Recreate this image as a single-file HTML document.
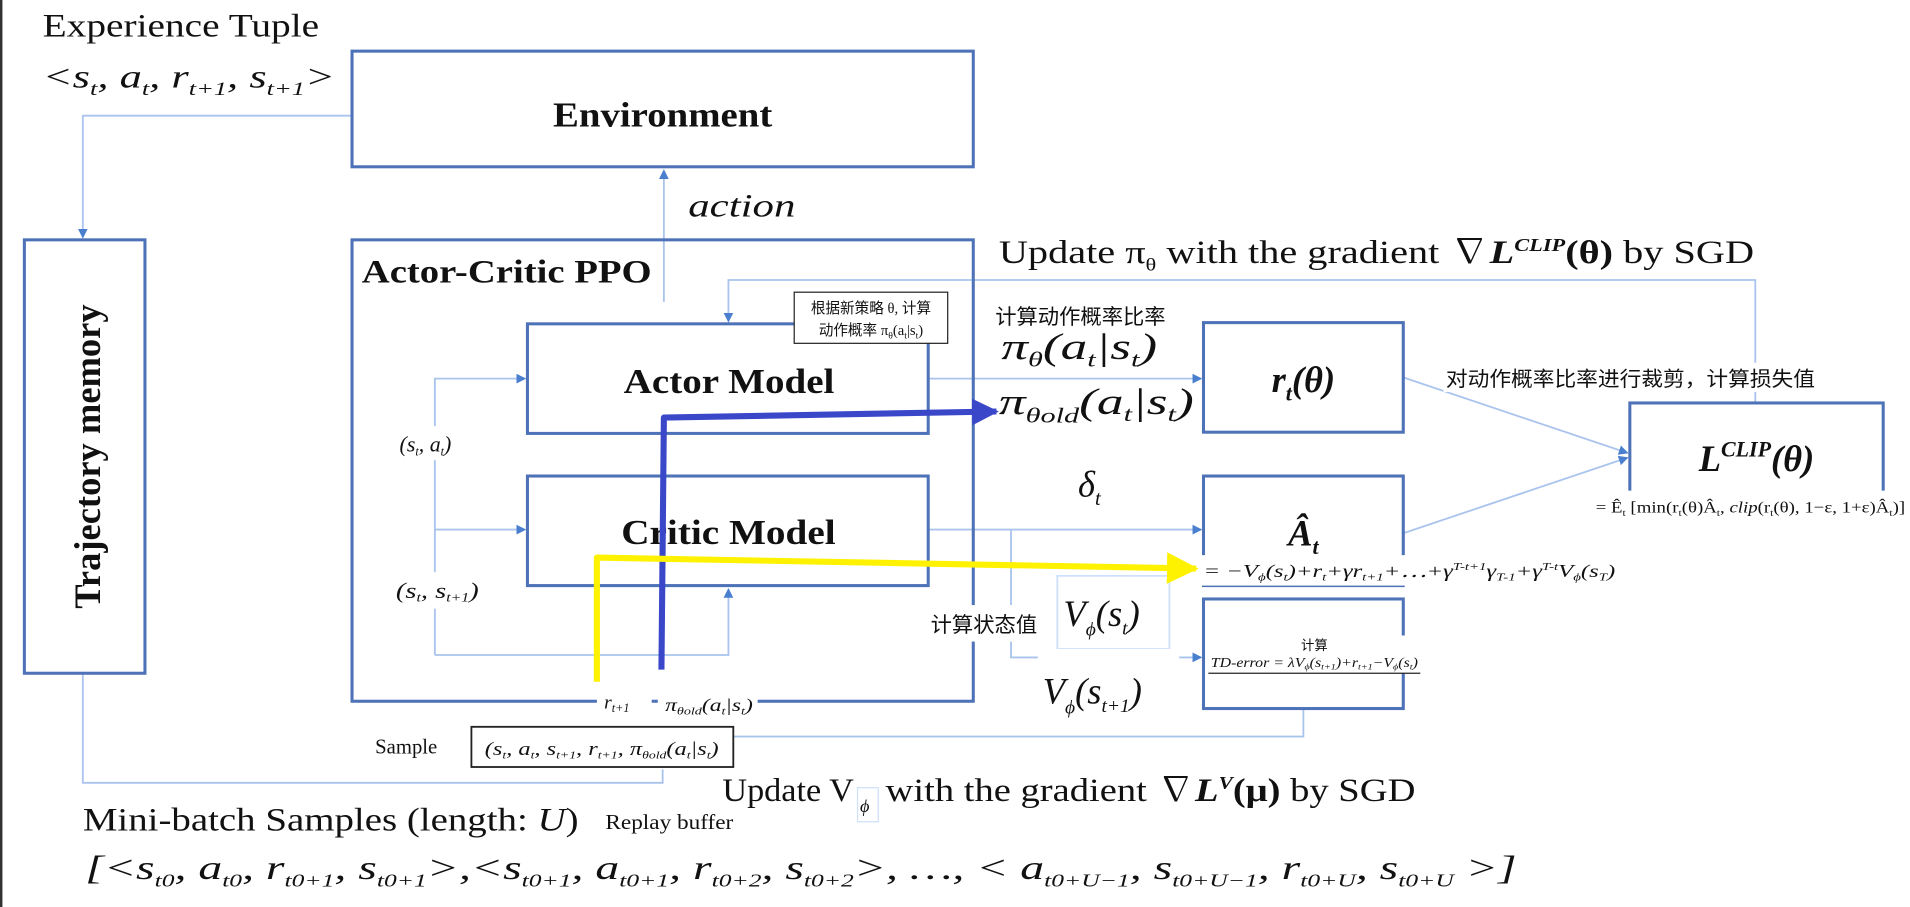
<!DOCTYPE html>
<html><head><meta charset="utf-8"><style>
html,body{margin:0;padding:0;background:#fff;overflow:hidden}
svg{display:block}
.s{font-family:"Liberation Serif","Noto Serif CJK SC",serif}
.c{font-family:"Liberation Serif","Noto Sans CJK SC",serif}
</style></head><body>
<svg width="1910" height="907" viewBox="0 0 1568 745" preserveAspectRatio="none" xmlns="http://www.w3.org/2000/svg">
<defs>
<marker id="a" markerWidth="8" markerHeight="8" refX="7" refY="4" orient="auto" markerUnits="userSpaceOnUse"><path d="M0,0 L8,4 L0,8 z" fill="#4a7fd0"/></marker>
<marker id="bl" markerWidth="22" markerHeight="22" refX="20" refY="11" orient="auto" markerUnits="userSpaceOnUse"><path d="M0,0 L22,11 L0,22 z" fill="#3b47c9"/></marker>
<marker id="ye" markerWidth="26" markerHeight="26" refX="24" refY="13" orient="auto" markerUnits="userSpaceOnUse"><path d="M0,0 L26,13 L0,26 z" fill="#fff200"/></marker>
</defs>
<rect x="0" y="0" width="2" height="745" fill="#333"/>
<g fill="none" stroke="#aac4ee" stroke-width="1.5">
<polyline points="289,95 68,95 68,195" marker-end="url(#a)"/>
<polyline points="68,553 68,643 544,643 544,632"/>
<line x1="545" y1="248" x2="545" y2="140" marker-end="url(#a)"/>
<polyline points="1441,332 1441,230 598,230 598,264" marker-end="url(#a)"/>
<polyline points="357,538 357,311 431,311" marker-end="url(#a)"/>
<line x1="357" y1="435" x2="431" y2="435" marker-end="url(#a)"/>
<polyline points="357,538 598,538 598,484" marker-end="url(#a)"/>
<line x1="762" y1="311" x2="986" y2="311" marker-end="url(#a)"/>
<line x1="762" y1="435" x2="986" y2="435" marker-end="url(#a)"/>
<polyline points="830,435 830,540 986,540" marker-end="url(#a)"/>
<line x1="1152" y1="310" x2="1336" y2="372" marker-end="url(#a)"/>
<line x1="1152" y1="438" x2="1336" y2="376" marker-end="url(#a)"/>
<polyline points="1070,582 1070,605 600,605"/>
</g>
<g fill="#fff" stroke="#4d72b8" stroke-width="2.5">
<rect x="289" y="42" width="510" height="95"/>
<rect x="20" y="197" width="99" height="356"/>
<rect x="289" y="197" width="510" height="379" fill="none"/>
<rect x="433" y="266" width="329" height="90"/>
<rect x="433" y="391" width="329" height="90"/>
<rect x="988" y="265" width="164" height="90"/>
<rect x="988" y="391" width="164" height="90"/>
<rect x="988" y="492" width="164" height="90"/>
<rect x="1338" y="331" width="208" height="90"/>
</g>
<g class="s" fill="#111">
<text x="35" y="30" font-size="27" textLength="227" lengthAdjust="spacingAndGlyphs">Experience Tuple</text>
<text x="35" y="72" font-size="27" font-style="italic" textLength="240" lengthAdjust="spacingAndGlyphs">&lt;s<tspan font-size="16" dy="6">t</tspan><tspan dy="-6">, a</tspan><tspan font-size="16" dy="6">t</tspan><tspan dy="-6">, r</tspan><tspan font-size="16" dy="6">t+1</tspan><tspan dy="-6">, s</tspan><tspan font-size="16" dy="6">t+1</tspan><tspan dy="-6">&gt;</tspan></text>
<text x="454" y="104" font-size="29" font-weight="bold" textLength="180" lengthAdjust="spacingAndGlyphs">Environment</text>
<text x="565" y="178" font-size="27" font-style="italic" textLength="88" lengthAdjust="spacingAndGlyphs">action</text>
<text x="297" y="232" font-size="27" font-weight="bold" textLength="238" lengthAdjust="spacingAndGlyphs">Actor-Critic PPO</text>
<text x="512" y="323" font-size="29" font-weight="bold" textLength="173" lengthAdjust="spacingAndGlyphs">Actor Model</text>
<text x="510" y="447" font-size="29" font-weight="bold" textLength="176" lengthAdjust="spacingAndGlyphs">Critic Model</text>
<text transform="translate(82,375) rotate(-90)" font-size="30" font-weight="bold" text-anchor="middle">Trajectory memory</text>
<text x="1070" y="322" font-size="30" font-weight="bold" font-style="italic" text-anchor="middle">r<tspan font-size="18" dy="7">t</tspan><tspan dy="-7">(θ)</tspan></text>
<text x="1070" y="448" font-size="30" font-weight="bold" font-style="italic" text-anchor="middle">Â<tspan font-size="18" dy="7">t</tspan></text>
<text x="1442" y="387" font-size="30" font-weight="bold" font-style="italic" text-anchor="middle">L<tspan font-size="18" dy="-12">CLIP</tspan><tspan dy="12">(θ)</tspan></text>
<text x="820" y="216" font-size="27" textLength="620" lengthAdjust="spacingAndGlyphs">Update π<tspan font-size="15" dy="6">θ</tspan><tspan dy="-6"> with the gradient ∇</tspan><tspan font-weight="bold" font-style="italic">L</tspan><tspan font-size="15" dy="-10" font-weight="bold" font-style="italic">CLIP</tspan><tspan dy="10" font-weight="bold">(θ)</tspan> by SGD</text>
<text x="822" y="295" font-size="30" font-style="italic" textLength="128" lengthAdjust="spacingAndGlyphs">π<tspan font-size="17" dy="6">θ</tspan><tspan dy="-6">(a</tspan><tspan font-size="17" dy="6">t</tspan><tspan dy="-6">|s</tspan><tspan font-size="17" dy="6">t</tspan><tspan dy="-6">)</tspan></text>
<text x="820" y="340" font-size="30" font-style="italic" textLength="160" lengthAdjust="spacingAndGlyphs">π<tspan font-size="17" dy="7">θold</tspan><tspan dy="-7">(a</tspan><tspan font-size="17" dy="6">t</tspan><tspan dy="-6">|s</tspan><tspan font-size="17" dy="6">t</tspan><tspan dy="-6">)</tspan></text>
<text x="885" y="408" font-size="30" font-style="italic">δ<tspan font-size="17" dy="7">t</tspan></text>
<text x="593" y="658" font-size="27" textLength="108" lengthAdjust="spacingAndGlyphs">Update V</text>
<text x="727" y="658" font-size="27" textLength="435" lengthAdjust="spacingAndGlyphs">with the gradient ∇<tspan font-weight="bold" font-style="italic">L</tspan><tspan font-size="15" dy="-10" font-weight="bold" font-style="italic">V</tspan><tspan dy="10" font-weight="bold">(μ)</tspan> by SGD</text>
<text x="68" y="682" font-size="27" textLength="407" lengthAdjust="spacingAndGlyphs">Mini-batch Samples (length: <tspan font-style="italic">U</tspan>)</text>
<text x="70" y="722" font-size="28" font-style="italic" textLength="1175" lengthAdjust="spacingAndGlyphs">[&lt;s<tspan font-size="15" dy="6">t0</tspan><tspan dy="-6">, a</tspan><tspan font-size="15" dy="6">t0</tspan><tspan dy="-6">, r</tspan><tspan font-size="15" dy="6">t0+1</tspan><tspan dy="-6">, s</tspan><tspan font-size="15" dy="6">t0+1</tspan><tspan dy="-6">&gt;,&lt;s</tspan><tspan font-size="15" dy="6">t0+1</tspan><tspan dy="-6">, a</tspan><tspan font-size="15" dy="6">t0+1</tspan><tspan dy="-6">, r</tspan><tspan font-size="15" dy="6">t0+2</tspan><tspan dy="-6">, s</tspan><tspan font-size="15" dy="6">t0+2</tspan><tspan dy="-6">&gt;, …, &lt; a</tspan><tspan font-size="15" dy="6">t0+U−1</tspan><tspan dy="-6">, s</tspan><tspan font-size="15" dy="6">t0+U−1</tspan><tspan dy="-6">, r</tspan><tspan font-size="15" dy="6">t0+U</tspan><tspan dy="-6">, s</tspan><tspan font-size="15" dy="6">t0+U</tspan><tspan dy="-6"> &gt;]</tspan></text>
</g>
<g class="c" fill="#111">
<rect x="652" y="240" width="126" height="42" fill="#fff" stroke="#222" stroke-width="1"/>
<text x="715" y="257" font-size="12" text-anchor="middle">根据新策略 θ, 计算</text>
<text x="715" y="275" font-size="12" text-anchor="middle">动作概率 π<tspan font-size="8" dy="3">θ</tspan><tspan dy="-3">(a</tspan><tspan font-size="8" dy="3">t</tspan><tspan dy="-3">|s</tspan><tspan font-size="8" dy="3">t</tspan><tspan dy="-3">)</tspan></text>
<rect x="815" y="244" width="142" height="29" fill="#fff"/>
<text x="817" y="266" font-size="17.5">计算动作概率比率</text>
<rect x="1185" y="298" width="308" height="24" fill="#fff"/>
<text x="1187" y="317" font-size="17" textLength="303" lengthAdjust="spacingAndGlyphs">对动作概率比率进行裁剪，计算损失值</text>
<rect x="1308" y="403" width="258" height="24" fill="#fff"/>
<text x="1310" y="421" font-size="13" textLength="254" lengthAdjust="spacingAndGlyphs">= Ê<tspan font-size="8" dy="3">t</tspan><tspan dy="-3"> [min(r</tspan><tspan font-size="8" dy="3">t</tspan><tspan dy="-3">(θ)Â</tspan><tspan font-size="8" dy="3">t</tspan><tspan dy="-3">, </tspan><tspan font-style="italic">clip</tspan>(r<tspan font-size="8" dy="3">t</tspan><tspan dy="-3">(θ), 1−ε, 1+ε)Â</tspan><tspan font-size="8" dy="3">t</tspan><tspan dy="-3">)]</tspan></text>
<rect x="986" y="456" width="343" height="25" fill="#fff"/>
<text x="988" y="474" font-size="15" font-style="italic" textLength="338" lengthAdjust="spacingAndGlyphs">= −V<tspan font-size="9" dy="3">ϕ</tspan><tspan dy="-3">(s</tspan><tspan font-size="9" dy="3">t</tspan><tspan dy="-3">)+r</tspan><tspan font-size="9" dy="3">t</tspan><tspan dy="-3">+γr</tspan><tspan font-size="9" dy="3">t+1</tspan><tspan dy="-3">+⋯+γ</tspan><tspan font-size="9" dy="-6">T-t+1</tspan><tspan dy="6">γ</tspan><tspan font-size="9" dy="3">T-1</tspan><tspan dy="-3">+γ</tspan><tspan font-size="9" dy="-6">T-t</tspan><tspan dy="6">V</tspan><tspan font-size="9" dy="3">ϕ</tspan><tspan dy="-3">(s</tspan><tspan font-size="9" dy="3">T</tspan><tspan dy="-3">)</tspan></text>
<rect x="318" y="350" width="79" height="28" fill="#fff"/>
<text x="328" y="371" font-size="18" font-style="italic">(s<tspan font-size="10" dy="3">t</tspan><tspan dy="-3">,  a</tspan><tspan font-size="10" dy="3">t</tspan><tspan dy="-3">)</tspan></text>
<rect x="322" y="470" width="74" height="30" fill="#fff"/>
<text x="325" y="491" font-size="18" font-style="italic" textLength="68" lengthAdjust="spacingAndGlyphs">(s<tspan font-size="10" dy="3">t</tspan><tspan dy="-3">,  s</tspan><tspan font-size="10" dy="3">t+1</tspan><tspan dy="-3">)</tspan></text>
<rect x="760" y="497" width="98" height="30" fill="#fff"/>
<text x="764" y="519" font-size="17.5">计算状态值</text>
<rect x="868" y="473" width="92" height="60" fill="#fff" stroke="#cfe0fb" stroke-width="1.5"/>
<text x="873" y="514" font-size="30" font-style="italic">V<tspan font-size="16" dy="8">ϕ</tspan><tspan dy="-8">(s</tspan><tspan font-size="16" dy="7">t</tspan><tspan dy="-7">)</tspan></text>
<rect x="852" y="533" width="116" height="67" fill="#fff"/>
<text x="856" y="578" font-size="30" font-style="italic">V<tspan font-size="16" dy="8">ϕ</tspan><tspan dy="-8">(s</tspan><tspan font-size="16" dy="7">t+1</tspan><tspan dy="-7">)</tspan></text>
<rect x="992" y="522" width="174" height="31" fill="#fff"/>
<line x1="992" y1="553" x2="1166" y2="553" stroke="#222" stroke-width="1"/>
<text x="1079" y="534" font-size="11" text-anchor="middle">计算</text>
<text x="994" y="548" font-size="11" font-style="italic" textLength="170" lengthAdjust="spacingAndGlyphs">TD-error = λV<tspan font-size="7" dy="2">ϕ</tspan><tspan dy="-2">(s</tspan><tspan font-size="7" dy="2">t+1</tspan><tspan dy="-2">)+r</tspan><tspan font-size="7" dy="2">t+1</tspan><tspan dy="-2">−V</tspan><tspan font-size="7" dy="2">ϕ</tspan><tspan dy="-2">(s</tspan><tspan font-size="7" dy="2">t</tspan><tspan dy="-2">)</tspan></text>
<rect x="490" y="563" width="45" height="32" fill="#fff"/>
<text x="496" y="582" font-size="16" font-style="italic">r<tspan font-size="10" dy="3">t+1</tspan></text>
<rect x="540" y="565" width="82" height="30" fill="#fff"/>
<text x="546" y="584" font-size="15" font-style="italic" textLength="72" lengthAdjust="spacingAndGlyphs">π<tspan font-size="9" dy="3">θold</tspan><tspan dy="-3">(a</tspan><tspan font-size="9" dy="3">t</tspan><tspan dy="-3">|s</tspan><tspan font-size="9" dy="3">t</tspan><tspan dy="-3">)</tspan></text>
<rect x="305" y="598" width="67" height="29" fill="#fff"/>
<text x="308" y="619" font-size="17">Sample</text>
<rect x="387" y="597" width="215" height="33" fill="#fff" stroke="#222" stroke-width="1.5"/>
<text x="398" y="620" font-size="16" font-style="italic" textLength="192" lengthAdjust="spacingAndGlyphs">(s<tspan font-size="9" dy="3">t</tspan><tspan dy="-3">,  a</tspan><tspan font-size="9" dy="3">t</tspan><tspan dy="-3">,  s</tspan><tspan font-size="9" dy="3">t+1</tspan><tspan dy="-3">,  r</tspan><tspan font-size="9" dy="3">t+1</tspan><tspan dy="-3">,  π</tspan><tspan font-size="9" dy="3">θold</tspan><tspan dy="-3">(a</tspan><tspan font-size="9" dy="3">t</tspan><tspan dy="-3">|s</tspan><tspan font-size="9" dy="3">t</tspan><tspan dy="-3">)</tspan></text>
<rect x="488" y="663" width="118" height="22" fill="#fff"/>
<text x="497" y="681" font-size="17" textLength="105" lengthAdjust="spacingAndGlyphs">Replay buffer</text>
<rect x="704" y="647" width="17" height="28" fill="#fff" stroke="#cfe0fb"/>
<text x="706" y="667" font-size="15" font-style="italic">ϕ</text>
</g>
<polyline points="543,550 545,343 818,338" fill="none" stroke="#3b47c9" stroke-width="5" stroke-linejoin="round" marker-end="url(#bl)"/>
<polyline points="490,560 490,458 982,467" fill="none" stroke="#fff200" stroke-width="5" stroke-linejoin="round" marker-end="url(#ye)"/>
</svg>
</body></html>
